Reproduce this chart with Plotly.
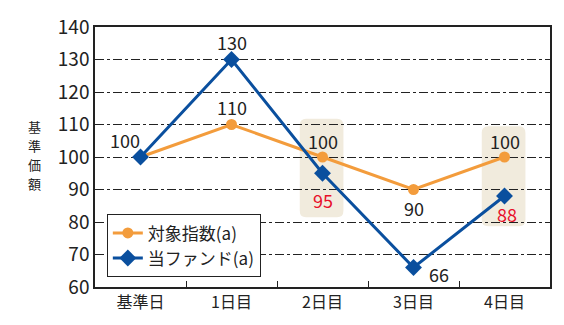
import plotly.graph_objects as go

categories = ["基準日", "1日目", "2日目", "3日目", "4日目"]
index_vals = [100, 110, 100, 90, 100]
fund_vals = [100, 130, 95, 66, 88]
series_names = ["対象指数(a)", "当ファンド(a)"]
axis_title = "基準価額"
orange = "#F39C3C"
blue = "#0A4F9E"
font = "Noto Sans CJK JP"

fig = go.Figure()
fig.add_trace(go.Scatter(x=categories, y=index_vals, name=series_names[0], mode="lines+markers",
                         line=dict(color=orange, width=3), marker=dict(symbol="circle", size=11, color=orange)))
fig.add_trace(go.Scatter(x=categories, y=fund_vals, name=series_names[1], mode="lines+markers",
                         line=dict(color=blue, width=3), marker=dict(symbol="diamond", size=13, color=blue)))

# highlight boxes with rounded corners
def rounded(x0, x1, y0, y1, rx=0.07, ry=2.0):
    return (f"M {x0+rx},{y0} L {x1-rx},{y0} Q {x1},{y0} {x1},{y0+ry} L {x1},{y1-ry} "
            f"Q {x1},{y1} {x1-rx},{y1} L {x0+rx},{y1} Q {x0},{y1} {x0},{y1-ry} "
            f"L {x0},{y0+ry} Q {x0},{y0} {x0+rx},{y0} Z")

for cat, y0, y1 in [(2, 81.5, 111.8), (4, 78.7, 109.5)]:
    fig.add_shape(type="path", xref="x", yref="y", path=rounded(cat - 0.25, cat + 0.23, y0, y1),
                  fillcolor="#F1EBDD", line=dict(width=0), layer="below")

ann = []
def lab(i, y, text, dx, dy, color="#222"):
    ann.append(dict(x=categories[i], y=y, text=text, showarrow=False, xshift=dx, yshift=dy,
                    font=dict(size=18, color=color, family=font)))

lab(0, index_vals[0], "100", -16, 17)
lab(1, index_vals[1], "110", 0, 18)
lab(2, index_vals[2], "100", 0, 16)
lab(3, index_vals[3], "90", 0, -18)
lab(4, index_vals[4], "100", 0, 16)
lab(1, fund_vals[1], "130", 0, 18)
lab(2, fund_vals[2], "95", 0, -27, "#E8102A")
lab(3, fund_vals[3], "66", 25, -6)
lab(4, fund_vals[4], "88", 2, -18, "#E8102A")
for k, ch in enumerate(axis_title):
    ann.append(dict(xref="paper", yref="paper", x=-0.132, y=0.507, yshift=28.5 - 19 * k, text=ch,
                    showarrow=False, font=dict(size=13, color="#222", family=font),
                    xanchor="center", yanchor="middle"))

fig.update_layout(
    width=564, height=325, margin=dict(l=95, r=14, t=21, b=32),
    plot_bgcolor="white", paper_bgcolor="white",
    font=dict(family=font, color="#222"),
    annotations=ann,
    showlegend=True,
    legend=dict(x=0.026, y=0.037, xanchor="left", yanchor="bottom", bgcolor="white",
                bordercolor="#222", borderwidth=1, font=dict(size=17, family=font),
                tracegroupgap=0, entrywidth=140, entrywidthmode="pixels"),
)
fig.update_xaxes(type="category", range=[-0.5, 4.5], showline=True, linecolor="#222", linewidth=1.5, mirror=True,
                 ticks="inside", tickson="boundaries", ticklen=6, tickcolor="#222", showgrid=False,
                 tickfont=dict(size=16, family=font, color="#222"))
fig.update_yaxes(range=[60, 140], dtick=10, showline=True, linecolor="#222", linewidth=1.5, mirror=True,
                 showgrid=True, gridcolor="#222", gridwidth=1, griddash="dashdot", zeroline=False,
                 tickfont=dict(size=19, family=font, color="#222"), ticks="")
fig.write_html("out.html")
